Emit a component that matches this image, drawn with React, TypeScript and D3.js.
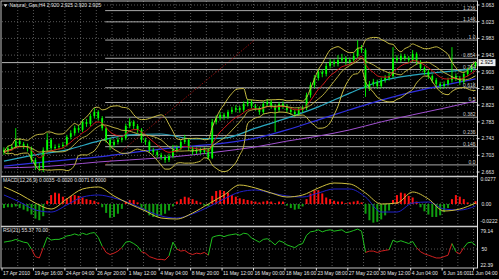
import React from "react";
import * as d3 from "d3";

// ---- price data (H4 bars) ----
const firstOpen = 2.716;
const closes = [
  2.711, 2.72, 2.723, 2.737, 2.73, 2.725, 2.72, 2.692, 2.677, 2.673,
  2.716, 2.74, 2.72, 2.723, 2.725, 2.728, 2.747, 2.756, 2.768, 2.764,
  2.783, 2.778, 2.797, 2.807, 2.792, 2.768, 2.74, 2.728, 2.735, 2.74,
  2.744, 2.773, 2.783, 2.773, 2.764, 2.74, 2.735, 2.716, 2.711, 2.704,
  2.699, 2.692, 2.701, 2.716, 2.72, 2.735, 2.74, 2.72, 2.711, 2.716,
  2.711, 2.716, 2.697, 2.783, 2.792, 2.8, 2.795, 2.807, 2.812, 2.816,
  2.812, 2.826, 2.831, 2.821, 2.816, 2.807, 2.826, 2.831, 2.821, 2.812,
  2.826, 2.821, 2.812, 2.807, 2.802, 2.812, 2.816, 2.847, 2.871, 2.888,
  2.903, 2.898, 2.917, 2.927, 2.922, 2.931, 2.936, 2.927, 2.931, 2.941,
  2.96, 2.955, 2.864, 2.874, 2.879, 2.869, 2.883, 2.888, 2.893, 2.936,
  2.931, 2.941, 2.936, 2.931, 2.946, 2.927, 2.912, 2.903, 2.893, 2.883,
  2.874, 2.869, 2.874, 2.883, 2.893, 2.888, 2.879, 2.898, 2.907, 2.917,
  2.925,
];
const highs = [
  2.722, 2.726, 2.73, 2.768, 2.744, 2.735, 2.731, 2.724, 2.697, 2.686,
  2.722, 2.756, 2.744, 2.729, 2.731, 2.735, 2.752, 2.763, 2.774, 2.775,
  2.789, 2.79, 2.803, 2.816, 2.811, 2.797, 2.772, 2.745, 2.741, 2.746,
  2.75, 2.779, 2.792, 2.787, 2.778, 2.768, 2.745, 2.739, 2.721, 2.716,
  2.709, 2.704, 2.707, 2.728, 2.727, 2.74, 2.752, 2.744, 2.725, 2.722,
  2.721, 2.722, 2.72, 2.79, 2.799, 2.807, 2.805, 2.812, 2.819, 2.823,
  2.821, 2.832, 2.838, 2.836, 2.826, 2.82, 2.832, 2.838, 2.836, 2.826,
  2.831, 2.832, 2.826, 2.817, 2.812, 2.818, 2.822, 2.853, 2.878, 2.895,
  2.91, 2.909, 2.924, 2.934, 2.933, 2.943, 2.946, 2.941, 2.937, 2.948,
  2.979, 2.967, 2.959, 2.881, 2.886, 2.884, 2.889, 2.895, 2.9, 2.962,
  2.943, 2.947, 2.946, 2.941, 2.955, 2.95, 2.931, 2.916, 2.908, 2.897,
  2.888, 2.879, 2.88, 2.889, 2.962, 2.899, 2.893, 2.904, 2.913, 2.922,
  2.927,
];
const lows = [
  2.704, 2.706, 2.714, 2.719, 2.724, 2.718, 2.712, 2.685, 2.668, 2.665,
  2.663, 2.71, 2.714, 2.715, 2.717, 2.719, 2.724, 2.741, 2.75, 2.757,
  2.759, 2.771, 2.773, 2.791, 2.786, 2.762, 2.733, 2.716, 2.722, 2.729,
  2.734, 2.739, 2.768, 2.766, 2.757, 2.733, 2.728, 2.709, 2.704, 2.697,
  2.692, 2.685, 2.687, 2.696, 2.71, 2.715, 2.73, 2.713, 2.704, 2.706,
  2.705, 2.706, 2.692, 2.694, 2.777, 2.786, 2.788, 2.79, 2.802, 2.806,
  2.805, 2.807, 2.82, 2.815, 2.81, 2.8, 2.802, 2.821, 2.815, 2.759,
  2.806, 2.814, 2.806, 2.8, 2.795, 2.797, 2.806, 2.811, 2.841, 2.864,
  2.882, 2.89, 2.892, 2.911, 2.915, 2.916, 2.925, 2.919, 2.921, 2.925,
  2.935, 2.948, 2.843, 2.857, 2.868, 2.862, 2.864, 2.877, 2.882, 2.888,
  2.924, 2.926, 2.929, 2.924, 2.926, 2.92, 2.905, 2.896, 2.886, 2.876,
  2.866, 2.861, 2.863, 2.868, 2.877, 2.881, 2.871, 2.874, 2.892, 2.902,
  2.912,
];

// ---- moving averages sampled every 8 bars ----
const maBars = [0, 8, 16, 24, 32, 40, 48, 56, 64, 72, 80, 88, 96, 104, 112, 120];
const maCyan = [2.689, 2.704, 2.716, 2.737, 2.752, 2.754, 2.742, 2.744, 2.768, 2.792, 2.819, 2.852, 2.881, 2.895, 2.903, 2.91];
const maBlue = [2.677, 2.685, 2.692, 2.699, 2.709, 2.718, 2.725, 2.732, 2.744, 2.764, 2.788, 2.812, 2.835, 2.855, 2.871, 2.886];
const maPurple = [2.673, 2.675, 2.68, 2.687, 2.692, 2.697, 2.704, 2.713, 2.723, 2.737, 2.749, 2.764, 2.783, 2.8, 2.816, 2.833];

// ---- MACD ----
const macdHist = [
  -0.005, -0.004, -0.004, -0.003, -0.005, -0.007, -0.009, -0.013, -0.018, -0.02,
  -0.015, 0.004, 0.011, 0.014, 0.013, 0.009, 0.007, 0.01, 0.011, 0.01,
  0.008, 0.006, 0.005, 0.004, 0.002, -0.004, -0.011, -0.017, -0.016, -0.012,
  -0.006, 0.003, 0.005, 0.005, 0.002, -0.005, -0.009, -0.014, -0.016, -0.016,
  -0.014, -0.012, -0.008, -0.003, 0.003, 0.006, 0.009, 0.008, 0.006, 0.004,
  0.002, -0.002, -0.003, 0.01, 0.016, 0.017, 0.016, 0.014, 0.011, 0.009,
  0.007, 0.006, 0.005, 0.004, 0.003, 0.002, 0.003, 0.004, 0.003, 0.001,
  0.003, 0.003, -0.002, -0.005, -0.007, -0.006, -0.003, 0.006, 0.013, 0.017,
  0.017, 0.013, 0.008, 0.006, 0.004, 0.003, 0.003, 0.001, 0.002, 0.003,
  0.004, 0.002, -0.012, -0.02, -0.023, -0.022, -0.019, -0.014, -0.008, 0.005,
  0.011, 0.014, 0.013, 0.01, 0.008, 0.003, -0.004, -0.009, -0.013, -0.016,
  -0.016, -0.014, -0.01, -0.005, 0.006, 0.011, 0.009, 0.006, 0.002, -0.001,
  0.0035,
];
const macdLineBars = [0, 4, 8, 12, 16, 20, 24, 28, 32, 36, 40, 44, 48, 52, 56, 60, 64, 68, 72, 76, 80, 84, 88, 92, 96, 100, 104, 108, 112, 116, 120];
const macdYellow = [
  0.021, 0.0123, 0.0012, -0.0062, 0.0062, 0.0185, 0.021, 0.0099, 0.0, -0.0086,
  -0.0173, -0.0185, -0.0111, 0.0, 0.0111, 0.0234, 0.0197, 0.0136, 0.0086, 0.0111,
  0.0197, 0.0259, 0.0247, 0.0136, 0.0, 0.0012, 0.0148, 0.0062, -0.0086, -0.0062,
  0.0012,
];
const macdBlue = [
  0.0111, 0.0025, -0.0074, -0.0099, -0.0012, 0.0086, 0.0111, 0.0074, 0.0012, -0.0074,
  -0.0148, -0.0173, -0.0123, -0.0037, 0.0062, 0.0148, 0.0173, 0.0136, 0.0099, 0.0086,
  0.0136, 0.0185, 0.0185, 0.0086, -0.0099, -0.0099, 0.0012, 0.0025, -0.0062, -0.0074,
  -0.0025,
];

// ---- RSI ----
const rsiValues = [
  60, 61, 62, 64, 62, 60, 59, 50, 39, 37,
  52, 67, 63, 64, 64, 66, 69, 70, 72, 70,
  73, 71, 73, 74, 67, 54, 45, 42, 44, 47,
  52, 60, 61, 58, 54, 46, 44, 39, 37, 35,
  35, 34, 40, 60, 50, 47, 48, 44, 42, 44,
  43, 45, 41, 67, 69, 70, 68, 70, 71, 72,
  70, 73, 72, 66, 63, 60, 64, 65, 61, 56,
  62, 60, 56, 54, 52, 56, 58, 70, 75, 76,
  78, 75, 77, 78, 76, 77, 78, 74, 75, 77,
  79, 76, 45, 47, 47, 45, 47, 48, 49, 63,
  60, 62, 60, 58, 61, 52, 46, 43, 41, 39,
  37, 37, 39, 41, 58, 46, 43, 52, 59, 60,
  55.37,
];

// ---- Fibonacci ----
const fibLevels = [0, 0.146, 0.236, 0.382, 0.5, 0.618, 0.764, 0.854, 1, 1.146, 1.236];
const fibLabels = ["0.0", "0.146", "0.236", "0.382", "0.5", "0.618", "0.764", "0.854", "1.0", "1.146", "1.236"];
const fibLow = 2.68;
const fibHigh = 2.979;
const fibBarLow = 26.25;
const fibBarHigh = 64.25;

// ---- axes ----
const priceTicks = [3.063, 3.023, 2.983, 2.943, 2.903, 2.863, 2.823, 2.783, 2.743, 2.703, 2.663];
const lastPrice = 2.925;
const dateLabels = [
  "17 Apr 2010", "19 Apr 16:00", "24 Apr 04:00", "26 Apr 20:00", "1 May 12:00", "4 May 04:00",
  "8 May 20:00", "11 May 12:00", "16 May 00:00", "18 May 16:00", "23 May 08:00", "27 May 22:00",
  "30 May 12:00", "4 Jun 04:00", "6 Jun 16:00", "11 Jun 04:00",
];
const titleMain = "Natural_Gas,H4  2.920 2.925 2.920 2.925";
const titleMacd = "MACD(12,26,9) 0.0035 -0.0020 0.0071 0.0000";
const titleRsi = "RSI(21) 55.37 70.00";

const FONT = "Liberation Sans, Arial, sans-serif";
const FS = 5;

function ema(a: number[], n: number) {
  const k = 2 / (n + 1);
  const out: number[] = [];
  a.forEach((v, i) => out.push(i === 0 ? v : k * v + (1 - k) * out[i - 1]));
  return out;
}

export default function App() {
  const N = closes.length;
  const L = 2, R = 477.5;
  const x = d3.scaleLinear().domain([0, N]).range([L, R]);
  const cx = (i: number) => x(i + 0.5);
  const yP = d3.scaleLinear().domain([2.663, 3.063]).range([172, 5]);
  const yM = d3.scaleLinear().domain([-0.0222, 0]).range([222, 204]);
  const yR = d3.scaleLinear().domain([22.39, 79.14]).range([268, 229]);

  const opens = closes.map((_, i) => (i === 0 ? firstOpen : closes[i - 1]));

  // Bollinger bands (10, 2) and fast EMA
  const bb = closes.map((_, i) => {
    const s = closes.slice(Math.max(0, i - 9), i + 1);
    const m = d3.mean(s) as number;
    const sd = Math.sqrt(d3.mean(s.map((v) => (v - m) ** 2)) as number);
    return { m, up: m + 2 * sd, lo: m - 2 * sd };
  });
  const redMA = ema(closes, 7);

  const lineP = d3.line<number>().x((_, i) => cx(i)).y((d) => yP(d)).curve(d3.curveMonotoneX);
  const lineSampled = (bars: number[], vals: number[], ys: (v: number) => number) =>
    d3.line<number>().x((_, i) => cx(bars[i])).y((d) => ys(d)).curve(d3.curveMonotoneX)(vals) as string;

  const gridXs = d3.range(1, 31).map((k) => x(4 * k));
  const grid = "#6e6e6e";

  const fibY = (lv: number) => yP(fibLow + lv * (fibHigh - fibLow));

  const rsiSegs = rsiValues.slice(1).map((v, j) => {
    const a = rsiValues[j];
    return { x1: cx(j), y1: yR(a), x2: cx(j + 1), y2: yR(v), up: (a + v) / 2 >= 50 };
  });

  return (
    <svg width={499} height={279} style={{ position: "absolute", left: 0, top: 0, background: "#000" }}
      fontFamily={FONT}>
      <defs>
        <clipPath id="cMain"><rect x={L} y={1} width={R - L} height={175} /></clipPath>
        <clipPath id="cMacd"><rect x={L} y={177.5} width={R - L} height={48.5} /></clipPath>
        <clipPath id="cRsi"><rect x={L} y={227.5} width={R - L} height={40} /></clipPath>
      </defs>
      <rect x={0} y={0} width={499} height={279} fill="#000" />

      {/* grid */}
      {gridXs.map((gx, i) => (
        <line key={"gv" + i} x1={gx} x2={gx} y1={1} y2={268} stroke={grid} strokeDasharray="1,2" strokeWidth={0.8} />
      ))}
      {priceTicks.map((p, i) => (
        <line key={"gh" + i} x1={L} x2={R} y1={yP(p)} y2={yP(p)} stroke={grid} strokeDasharray="1,2" strokeWidth={0.8} />
      ))}
      <line x1={L} x2={R} y1={yM(0)} y2={yM(0)} stroke={grid} strokeDasharray="1,2" strokeWidth={0.8} />
      <line x1={L} x2={R} y1={yR(50)} y2={yR(50)} stroke={grid} strokeDasharray="1,2" strokeWidth={0.8} />

      {/* main panel */}
      <g clipPath="url(#cMain)">
        {fibLevels.map((lv, i) => (
          <line key={"fl" + i} x1={x(fibBarLow)} x2={R} y1={fibY(lv)} y2={fibY(lv)} stroke="#a8a8a8" strokeWidth={1} />
        ))}
        <line x1={x(fibBarLow)} y1={yP(fibLow)} x2={x(fibBarHigh)} y2={yP(fibHigh)} stroke="#b01010" strokeDasharray="1.5,1.5" strokeWidth={0.8} />
        <line x1={L} x2={R} y1={yP(lastPrice)} y2={yP(lastPrice)} stroke="#b8b8b8" strokeWidth={1} />

        <path d={lineSampled(maBars, maPurple, yP)} fill="none" stroke="#a050d0" strokeWidth={1} />
        <path d={lineSampled(maBars, maBlue, yP)} fill="none" stroke="#3030e0" strokeWidth={1.2} />
        <path d={lineSampled(maBars, maCyan, yP)} fill="none" stroke="#2aa8c0" strokeWidth={1.2} />

        {closes.map((c, i) => {
          const o = opens[i];
          const top = yP(Math.max(o, c));
          const bot = yP(Math.min(o, c));
          return (
            <g key={"k" + i}>
              <line x1={cx(i)} x2={cx(i)} y1={yP(highs[i])} y2={yP(lows[i])} stroke="#00ff00" strokeWidth={0.9} />
              <rect x={cx(i) - 0.9} y={top} width={1.8} height={Math.max(1, bot - top)} fill="#00ff00" />
            </g>
          );
        })}

        <path d={lineP(redMA) as string} fill="none" stroke="#d01818" strokeWidth={1} />
        <path d={lineP(bb.map((b) => b.up)) as string} fill="none" stroke="#c8bc44" strokeWidth={1} />
        <path d={lineP(bb.map((b) => b.m)) as string} fill="none" stroke="#c8bc44" strokeWidth={0.9} />
        <path d={lineP(bb.map((b) => b.lo)) as string} fill="none" stroke="#c8bc44" strokeWidth={1} />
      </g>
      {fibLevels.map((lv, i) => (
        <text key={"ft" + i} x={R - 2} y={fibY(lv) - 1} fontSize={FS} fill="#c8c8c8" textAnchor="end">{fibLabels[i]}</text>
      ))}

      {/* MACD panel */}
      <g clipPath="url(#cMacd)">
        {macdHist.map((v, i) => (
          <rect key={"h" + i} x={cx(i) - 1} width={2}
            y={Math.min(yM(v), yM(0))} height={Math.abs(yM(v) - yM(0))}
            fill={v >= 0 ? "#ff1010" : "#10a010"} />
        ))}
        <path d={lineSampled(macdLineBars, macdBlue, yM)} fill="none" stroke="#2020c8" strokeWidth={1} />
        <path d={lineSampled(macdLineBars, macdYellow, yM)} fill="none" stroke="#d0c040" strokeWidth={1} />
      </g>

      {/* RSI panel */}
      <g clipPath="url(#cRsi)">
        {rsiSegs.map((s, i) => (
          <line key={"r" + i} x1={s.x1} y1={s.y1} x2={s.x2} y2={s.y2} stroke={s.up ? "#20c020" : "#d02020"} strokeWidth={1} />
        ))}
      </g>

      {/* frame & separators */}
      <rect x={1} y={1} width={R - 1} height={267} fill="none" stroke="#c0c0c0" strokeWidth={1} />
      <line x1={1} x2={R} y1={176.5} y2={176.5} stroke="#c8c8c8" strokeWidth={1.5} />
      <line x1={1} x2={R} y1={226.5} y2={226.5} stroke="#c8c8c8" strokeWidth={1.5} />
      <line x1={R} x2={R} y1={1} y2={268} stroke="#e0e0e0" strokeWidth={1} />

      {/* titles */}
      <path d="M3.5,4.2 L7.5,4.2 L5.5,7 Z" fill="#e0e0e0" />
      <text x={9.5} y={7} fontSize={FS} fill="#e0e0e0">{titleMain}</text>
      <text x={3} y={182} fontSize={FS} fill="#e0e0e0">{titleMacd}</text>
      <text x={3} y={232} fontSize={FS} fill="#e0e0e0">{titleRsi}</text>

      {/* right price axis */}
      {priceTicks.map((p, i) => (
        <g key={"pt" + i}>
          <line x1={R} x2={R + 2} y1={yP(p)} y2={yP(p)} stroke="#e0e0e0" />
          <text x={R + 4} y={yP(p) + 1.8} fontSize={FS} fill="#e8e8e8">{p.toFixed(3)}</text>
        </g>
      ))}
      <rect x={R + 1} y={yP(lastPrice) - 3.5} width={17} height={7} fill="#f0f0f0" />
      <text x={R + 3} y={yP(lastPrice) + 1.8} fontSize={FS} fill="#000">{lastPrice.toFixed(3)}</text>

      <text x={R + 3} y={181} fontSize={FS} fill="#e8e8e8">0.0277</text>
      <text x={R + 4} y={yM(0) + 1.8} fontSize={FS} fill="#e8e8e8">0.00</text>
      <text x={R + 3} y={223} fontSize={FS} fill="#e8e8e8">-0.0222</text>
      <text x={R + 3} y={233} fontSize={FS} fill="#e8e8e8">79.14</text>
      <text x={R + 4} y={yR(50) + 1.8} fontSize={FS} fill="#e8e8e8">50</text>
      <text x={R + 3} y={267} fontSize={FS} fill="#e8e8e8">22.39</text>

      {/* date axis */}
      {dateLabels.map((d, k) => {
        const last = k === dateLabels.length - 1;
        return (
          <g key={"d" + k}>
            <line x1={x(8 * k)} x2={x(8 * k)} y1={268} y2={270.5} stroke="#e0e0e0" />
            <text x={last ? 497.5 : x(8 * k) + 1} y={275} fontSize={FS} fill="#e8e8e8"
              textAnchor={last ? "end" : "start"}>{d}</text>
          </g>
        );
      })}
    </svg>
  );
}
